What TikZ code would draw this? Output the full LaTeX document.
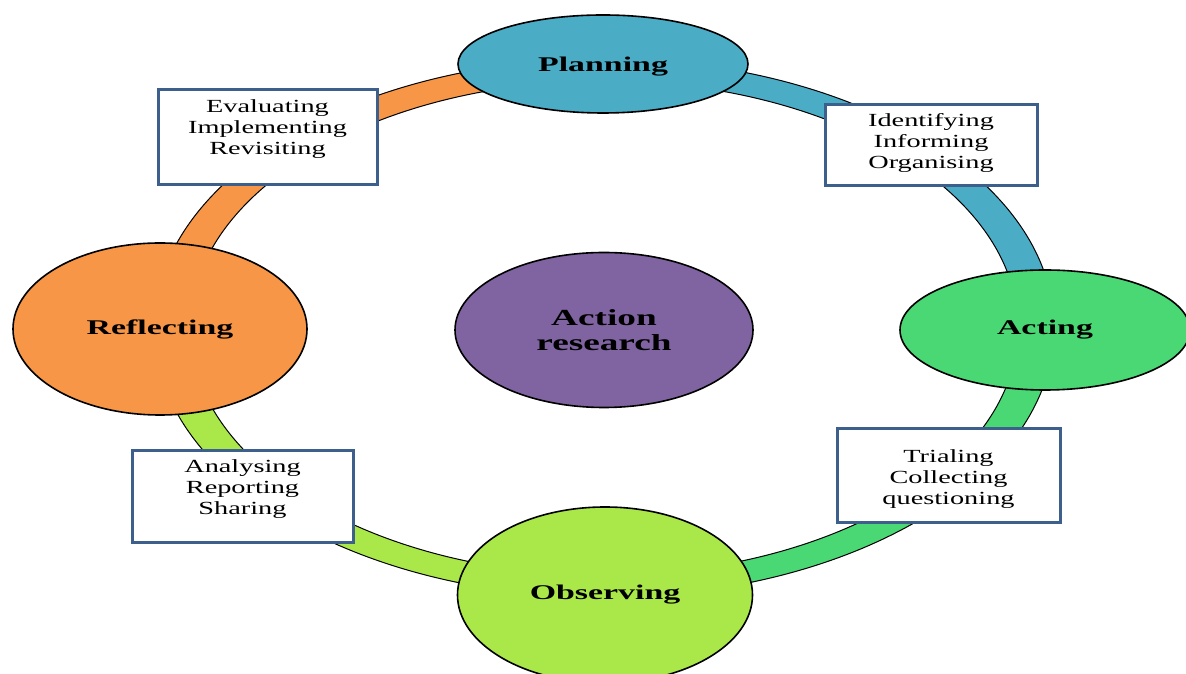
\documentclass[tikz,border=0pt]{standalone}
\usepackage{fontspec}
\setmainfont{Liberation Serif}
\usepackage{graphicx}
\usetikzlibrary{shapes.geometric,calc}
\definecolor{planblue}{HTML}{4BACC6}
\definecolor{actgreen}{HTML}{4AD874}
\definecolor{obsgreen}{HTML}{AAE84A}
\definecolor{reforange}{HTML}{F79646}
\definecolor{arpurple}{HTML}{8064A2}
\definecolor{boxblue}{HTML}{3C5F8C}
\newcommand{\xs}[1]{\scalebox{1.62}[1]{#1}}
\newcommand{\xb}[1]{\scalebox{1.53}[1]{#1}}
\begin{document}
\begin{tikzpicture}[x=1pt,y=1pt,
  stage/.style={ellipse, draw=black, line width=1.6pt, inner sep=0pt, align=center,
    font=\bfseries\fontsize{20.9}{24}\selectfont},
  infobox/.style={rectangle, draw=boxblue, line width=3pt, fill=white, inner sep=0pt},
  infotext/.style={align=center, inner sep=0pt, anchor=north,
    font=\fontsize{18.5}{21}\selectfont}
]
\useasboundingbox (0,0) rectangle (1186,674);
\clip (0,0) rectangle (1186,674);
\coordinate (C) at (604,346);
% ring, coloured by quadrant
\foreach \col/\sx/\sy in {reforange/-1/1, planblue/1/1, actgreen/1/-1, obsgreen/-1/-1} {
  \begin{scope}
    \clip (C) rectangle ++(\sx*500, \sy*300);
    \fill[\col, even odd rule] (C) ellipse [x radius=450pt, y radius=269pt]
      (C) ellipse [x radius=414pt, y radius=247pt];
  \end{scope}
}
\draw[black, line width=1pt] (C) ellipse [x radius=450pt, y radius=269pt];
\draw[black, line width=1pt] (C) ellipse [x radius=414pt, y radius=247pt];

% boxes
\node[infobox, minimum width=219pt, minimum height=95pt] (b1) at (267.5,536.5) {};
\node[infotext] (t1) at ($(b1.north)+(0,-10.5)$) {\xb{Evaluating}\\\xb{Implementing}\\\xb{Revisiting}};
\node[infobox, minimum width=212pt, minimum height=81pt] (b2) at (931,528.5) {};
\node[infotext] (t2) at ($(b2.north)+(0,-9.5)$) {\xb{Identifying}\\\xb{Informing}\\\xb{Organising}};
\node[infobox, minimum width=223pt, minimum height=94pt] (b3) at (948.5,198) {};
\node[infotext] (t3) at ($(b3.north)+(0,-21.5)$) {\xb{Trialing}\\\xb{Collecting}\\\xb{questioning}};
\node[infobox, minimum width=221pt, minimum height=92pt] (b4) at (242.5,177) {};
\node[infotext] (t4) at ($(b4.north)+(0,-9.5)$) {\xb{Analysing}\\\xb{Reporting}\\\xb{Sharing}};

% stages
\node[stage, fill=planblue, minimum width=290pt, minimum height=98pt] (plan) at (603,610) {\raisebox{-3pt}[\height][\depth]{\xs{Planning}}};
\node[stage, fill=actgreen, minimum width=290pt, minimum height=120pt] (act) at (1045,344) {\xs{Acting}};
\node[stage, fill=obsgreen, minimum width=295pt, minimum height=176pt] (obs) at (605,79) {\xs{Observing}};
\node[stage, fill=reforange, minimum width=294pt, minimum height=172pt] (ref) at (160,345) {\xs{Reflecting}};
\node[stage, fill=arpurple, minimum width=298pt, minimum height=155pt,
  font=\bfseries\fontsize{23}{25}\selectfont] (ar) at (604,344) {\xs{Action}\\\xs{research}};
\end{tikzpicture}
\end{document}
